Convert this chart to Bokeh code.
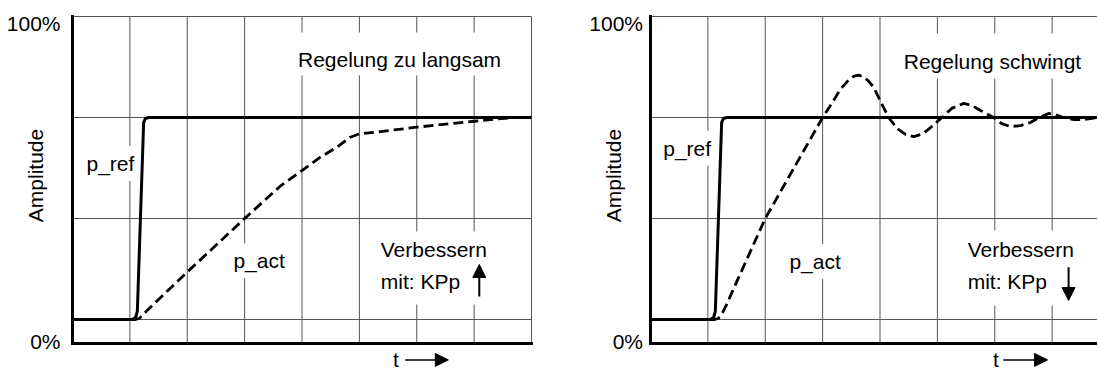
import numpy as np
from bokeh.plotting import figure
from bokeh.layouts import row
from bokeh.models import Range1d, Arrow, NormalHead
from bokeh.core.properties import value
from bokeh.embed import file_html
from bokeh.resources import INLINE

# ---------------- data ----------------
# x: time in grid divisions, y: amplitude in grid divisions
# (0 = start level, 2 = set-point level, 3 = top of chart = 100%)
grid_t = [1, 2, 3, 4, 5, 6, 7, 8]
grid_amp = [0, 1, 2, 3]
amp_floor = -0.238           # where the 0% axis line sits
amp_ticks = [-0.218, 2.934]
amp_tick_labels = ["0%", "100%"]

ref_t = [0, 1.04, 1.10, 1.13, 1.24, 1.27, 1.33, 8.0]
ref_amp = [0, 0, 0.02, 0.08, 1.95, 1.99, 2.0, 2.0]

slow_t = [0, 1.10, 1.16, 1.22, 1.30, 2.0, 3.0, 3.62, 4.0, 4.32, 4.61, 4.84,
          5.0, 5.37, 6.0, 7.0, 7.63]
slow_amp = [0, 0, 0.01, 0.04, 0.09, 0.47, 1.0, 1.32, 1.475, 1.607, 1.706, 1.805,
            1.838, 1.861, 1.904, 1.963, 1.997]

osc_t = [0, 1.12, 1.18, 1.24, 1.32, 1.5, 2.0, 2.5, 3.0, 3.15, 3.31, 3.45, 3.55,
         3.63, 3.72, 3.8, 3.89, 4.0, 4.15, 4.3, 4.45, 4.59, 4.75, 4.88, 5.08,
         5.25, 5.46, 5.6, 5.75, 5.98, 6.12, 6.27, 6.45, 6.62, 6.78, 6.94, 7.05,
         7.2, 7.38, 7.55, 7.78]
osc_amp = [0, 0, 0.01, 0.05, 0.14, 0.37, 1.0, 1.5, 2.0, 2.13, 2.28, 2.37, 2.41,
           2.42, 2.40, 2.36, 2.30, 2.17, 2.0, 1.89, 1.83, 1.81, 1.84, 1.90, 2.0,
           2.09, 2.14, 2.12, 2.07, 2.0, 1.94, 1.91, 1.92, 1.95, 2.0, 2.04, 2.03,
           2.0, 1.98, 1.98, 2.0]

titles = ["Regelung zu langsam", "Regelung schwingt"]
hint_lines = ["Verbessern", "mit: KPp"]
ref_name, act_name = "p_ref", "p_act"
y_name, t_name = "Amplitude", "t"

FONT = "Liberation Sans"
FS = "21px"
GRID = "#555555"
PX_PER_T = 57.375     # pixels per time division
PX_PER_A = 101.0      # pixels per amplitude division
ORIGIN_X = [72, 650]  # page x of the amplitude axis in each panel
ORIGIN_Y = 319        # page y of amplitude 0
PAGE_H = 371
T_ROW = -0.40         # height of the "t ->" caption under the time axis


def make_panel(page_left, page_right, origin_x, t_max, act_t, act_amp, cfg):
    x0 = (page_left - origin_x) / PX_PER_T
    x1 = (page_right - origin_x) / PX_PER_T
    y1 = ORIGIN_Y / PX_PER_A
    y0 = (ORIGIN_Y - PAGE_H) / PX_PER_A
    p = figure(width=page_right - page_left, height=PAGE_H,
               x_range=Range1d(x0, x1), y_range=Range1d(y0, y1),
               x_axis_location=None, y_axis_location=None,
               min_border=0, output_backend="svg", toolbar_location=None)
    p.background_fill_color = "white"
    p.border_fill_color = "white"
    p.outline_line_color = None
    p.grid.visible = False

    # grid lines
    vt = [t for t in grid_t if t <= t_max]
    p.segment(x0=vt, y0=[amp_floor] * len(vt), x1=vt, y1=[grid_amp[-1]] * len(vt),
              line_color=GRID, line_width=1)
    p.segment(x0=[0] * len(grid_amp), y0=grid_amp, x1=[t_max] * len(grid_amp),
              y1=grid_amp, line_color=GRID, line_width=1)

    # axis lines
    p.segment(x0=[0, 0], y0=[amp_floor, amp_floor], x1=[0, t_max],
              y1=[grid_amp[-1], amp_floor], line_color="black", line_width=3,
              line_cap="square")

    # tick labels and axis title
    p.text(x=[cfg["tick_x"]] * 2, y=amp_ticks, text=amp_tick_labels,
           text_font=value(FONT), text_font_size=FS, text_align="right",
           text_baseline="middle", text_color="black")
    p.text(x=[-0.65], y=[1.426], text=[y_name], angle=np.pi / 2,
           text_font=value(FONT), text_font_size=FS, text_align="center",
           text_baseline="middle", text_color="black")

    # white boxes behind the text blocks
    p.quad(left=cfg["boxes_l"], right=cfg["boxes_r"], bottom=cfg["boxes_b"],
           top=cfg["boxes_t"], fill_color="white", line_color=None)

    # texts
    p.text(x=[cfg["title_x"]], y=[cfg["title_y"]], text=[cfg["title"]],
           text_font=value(FONT), text_font_size=FS, text_align="center",
           text_baseline="middle", text_color="black")
    p.text(x=[cfg["hint_x"]] * 2, y=[0.689, 0.376], text=hint_lines,
           text_font=value(FONT), text_font_size=FS, text_align="left",
           text_baseline="middle", text_color="black")
    p.text(x=[cfg["ref_x"], cfg["act_x"]], y=[cfg["ref_y"], cfg["act_y"]],
           text=[ref_name, act_name],
           text_font=value(FONT), text_font_size=FS, text_align="left",
           text_baseline="middle", text_color="black",
           background_fill_color="white", padding=6)
    p.text(x=[cfg["t_x"]], y=[T_ROW], text=[t_name],
           text_font=value(FONT), text_font_size=FS, text_align="center",
           text_baseline="middle", text_color="black")

    # curves
    p.line(ref_t, ref_amp, line_color="black", line_width=3, line_join="round")
    p.line(act_t, act_amp, line_color="black", line_width=2.8,
           line_dash="10 5", line_join="round")

    # arrows
    p.add_layout(Arrow(end=NormalHead(size=13, fill_color="black", line_color="black",
                                      line_width=1),
                       x_start=cfg["tarr"][0], y_start=T_ROW,
                       x_end=cfg["tarr"][1], y_end=T_ROW,
                       line_width=1.5, line_color="black"))
    p.add_layout(Arrow(end=NormalHead(size=13, fill_color="black", line_color="black",
                                      line_width=1),
                       x_start=cfg["varr_x"], y_start=cfg["varr"][0],
                       x_end=cfg["varr_x"], y_end=cfg["varr"][1],
                       line_width=2, line_color="black"))
    return p


left_cfg = dict(tick_x=-0.209,
                boxes_l=[3.76, 5.23], boxes_r=[7.67, 7.32],
                boxes_b=[2.416, 0.149], boxes_t=[2.842, 0.871],
                title=titles[0], title_x=5.70, title_y=2.577,
                hint_x=5.373, ref_x=0.139, ref_y=1.548, act_x=2.70, act_y=0.58,
                t_x=5.638, tarr=(5.80, 6.55), varr_x=7.09, varr=(0.228, 0.545))
right_cfg = dict(tick_x=-0.131,
                 boxes_l=[4.27, 5.40], boxes_r=[7.63, 7.63],
                 boxes_b=[2.386, 0.139], boxes_t=[2.832, 0.881],
                 title=titles[1], title_x=5.96, title_y=2.554,
                 hint_x=5.528, ref_x=0.117, ref_y=1.696, act_x=2.317, act_y=0.574,
                 t_x=6.022, tarr=(6.15, 6.92), varr_x=7.287, varr=(0.518, 0.188))

p1 = make_panel(0, 541, ORIGIN_X[0], 8, slow_t, slow_amp, left_cfg)
p2 = make_panel(541, 1097, ORIGIN_X[1], 8, osc_t, osc_amp, right_cfg)

layout = row(p1, p2)
open("out.html", "w").write(file_html(layout, INLINE))
